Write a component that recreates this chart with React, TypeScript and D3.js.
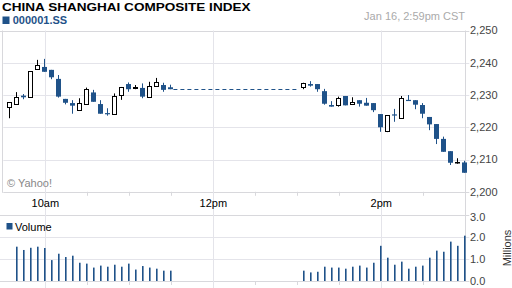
import React from "react";
import * as d3 from "d3";

// ---- data ----
const candleTimes = [
  "09:34","09:39","09:44","09:49","09:54","09:59","10:04","10:09","10:14","10:19","10:24","10:29",
  "10:34","10:39","10:44","10:49","10:54","10:59","11:04","11:09","11:14","11:19","11:24","11:29",
  "13:04","13:09","13:14","13:19","13:24","13:29","13:34","13:39","13:44","13:49","13:54","13:59",
  "14:04","14:09","14:14","14:19","14:24","14:29","14:34","14:39","14:44","14:49","14:54","14:59",
];
const openValues = [
  2226.3,2227.1,2229.8,2229.3,2238.2,2238.7,2237.8,2235.0,2228.8,2227.5,2225.3,2227.1,
  2230.8,2227.2,2224.4,2224.2,2229.9,2233.4,2232.1,2232.2,2229.3,2232.7,2233.1,2232.4,
  2232.4,2233.4,2233.4,2231.2,2226.9,2227.0,2229.7,2227.3,2228.4,2227.6,2227.5,2224.1,
  2218.9,2224.0,2222.8,2228.5,2228.4,2226.9,2223.2,2221.0,2216.4,2212.6,2209.2,2209.1,
];
const highValues = [
  2227.7,2230.9,2230.3,2237.4,2240.9,2241.2,2237.8,2236.2,2228.8,2228.4,2229.0,2232.3,
  2231.6,2228.4,2225.9,2230.5,2232.5,2233.9,2233.1,2233.6,2234.1,2235.3,2233.8,2233.2,
  2233.8,2234.3,2233.4,2231.9,2228.1,2229.5,2229.7,2229.3,2228.4,2229.1,2227.5,2224.1,
  2223.7,2225.7,2229.7,2230.0,2228.4,2227.5,2223.2,2221.0,2217.1,2212.6,2210.4,2209.6,
];
const lowValues = [
  2222.8,2227.1,2228.7,2229.3,2237.8,2237.2,2234.9,2229.2,2227.1,2224.2,2225.3,2227.1,
  2227.9,2224.2,2223.6,2224.2,2228.5,2231.0,2231.8,2229.0,2229.3,2232.7,2231.0,2231.8,
  2231.8,2232.6,2231.0,2227.0,2226.4,2226.4,2226.8,2227.0,2226.4,2226.7,2224.7,2218.6,
  2218.5,2221.7,2222.8,2228.3,2225.6,2222.8,2219.1,2214.8,2212.4,2208.3,2208.7,2205.9,
];
const closeValues = [
  2227.7,2229.4,2229.3,2237.4,2239.2,2237.2,2235.5,2229.5,2227.6,2226.7,2227.4,2231.9,
  2227.9,2224.2,2224.3,2229.7,2232.5,2231.8,2232.6,2229.5,2232.7,2233.9,2231.6,2231.8,
  2233.8,2232.9,2231.8,2227.3,2226.4,2229.1,2226.8,2227.7,2227.3,2226.7,2225.3,2220.0,
  2223.7,2223.9,2229.0,2228.3,2227.0,2224.2,2220.9,2216.4,2212.4,2209.0,2209.3,2205.9,
];
// volume in millions (first interval has no bar)
const volumeValues = [
  null,1.56,1.41,1.51,1.56,1.50,0.95,1.24,1.09,1.15,0.83,0.79,
  0.61,0.70,0.65,0.74,0.65,0.79,0.52,0.68,0.61,0.56,0.47,0.47,
  0.47,0.39,0.42,0.65,0.61,0.61,0.56,0.65,0.70,0.61,0.83,1.60,
  1.06,0.74,0.88,0.56,0.65,0.70,1.06,1.38,1.33,1.79,1.60,2.06,
];
const priceTicks = [2200, 2210, 2220, 2230, 2240, 2250];
const volumeTicks = [0, 1, 2, 3];
const timeTicks = ["10:00","10:30","11:00","11:30","12:00","12:30","13:00","13:30","14:00","14:30"];
const timeLabels = [
  { t: "10:00", label: "10am" },
  { t: "12:00", label: "12pm" },
  { t: "14:00", label: "2pm" },
];
const title = "CHINA SHANGHAI COMPOSITE INDEX";
const symbol = "000001.SS";
const stamp = "Jan 16, 2:59pm CST";

// ---- styles ----
const BLUE = "#1f5289";
const GRID = "#e4e4ea";
const BORDER = "#d8d8dc";
const FONT = "Arial, 'Liberation Sans', sans-serif";

const toMin = (s: string) => {
  const [h, m] = s.split(":").map(Number);
  return h * 60 + m;
};

export default function App() {
  const x = d3.scaleLinear().domain([toMin("09:30"), toMin("15:00")]).range([3.3, 465.3]);
  const y = d3.scaleLinear().domain([2200, 2250]).range([191.8, 30.5]);
  const yv = d3.scaleLinear().domain([0, 3]).range([281, 215]);
  const left = x.range()[0];
  const right = x.range()[1];
  const bw = 5;

  const crisp = (v: number) => Math.round(v) + 0.5;
  const lunchIdx = candleTimes.findIndex((t) => toMin(t) > toMin("12:00"));

  return (
    <svg
      width={512}
      height={288}
      style={{ position: "absolute", left: 0, top: 0, background: "#fff" }}
      fontFamily={FONT}
    >
      {/* header */}
      <text x={2} y={10.6} fontSize={11.5} fontWeight="bold" fill="#000" textLength={248.5} lengthAdjust="spacingAndGlyphs">{title}</text>
      <rect x={2.5} y={16.5} width={7} height={7.5} fill={BLUE} />
      <text x={12.7} y={24.2} fontSize={11} fontWeight="bold" fill={BLUE}>{symbol}</text>
      <text x={465} y={20} fontSize={11} fill="#aaa" textAnchor="end">{stamp}</text>

      {/* price gridlines */}
      {priceTicks.map((v) => (
        <line key={"pg" + v} x1={v === 2250 ? 0 : left} x2={right + 4} y1={crisp(y(v))} y2={crisp(y(v))} stroke={v === 2200 || v === 2250 ? BORDER : GRID} />
      ))}
      {/* volume gridlines */}
      {volumeTicks.map((v) => (
        <line key={"vg" + v} x1={0} x2={right + 4} y1={crisp(yv(v))} y2={crisp(yv(v))} stroke={v === 0 || v === 3 ? BORDER : GRID} />
      ))}
      {/* left border of price panel */}
      <line x1={crisp(left) - 1} x2={crisp(left) - 1} y1={y(2250)} y2={y(2200) + 1} stroke={BORDER} />
      {/* right border */}
      <line x1={crisp(right)} x2={crisp(right)} y1={y(2250)} y2={yv(0) + 1} stroke={BORDER} />

      {/* vertical time ticks / gridlines */}
      {timeTicks.map((t) => {
        const major = timeLabels.some((l) => l.t === t);
        const xx = crisp(x(toMin(t)));
        return major ? (
          <line key={"tg" + t} x1={xx} x2={xx} y1={y(2250)} y2={288} stroke={GRID} />
        ) : (
          <g key={"tg" + t}>
            <line x1={xx} x2={xx} y1={y(2200)} y2={y(2200) + 4} stroke={BORDER} />
            <line x1={xx} x2={xx} y1={yv(0)} y2={yv(0) + 4} stroke={BORDER} />
          </g>
        );
      })}

      {/* time labels */}
      {timeLabels.map((l) => (
        <text key={l.t} x={x(toMin(l.t))} y={207} fontSize={11} textAnchor="middle" fill="#000">{l.label}</text>
      ))}

      {/* price axis labels */}
      {priceTicks.map((v) => (
        <text key={"pl" + v} x={470} y={y(v)} dy="0.35em" fontSize={11} fill="#444">{d3.format(",")(v)}</text>
      ))}
      {/* volume axis labels */}
      {volumeTicks.map((v) => (
        <text key={"vl" + v} x={470} y={v === 3 ? yv(v) + 2 : yv(v)} dy="0.35em" fontSize={11} fill="#444">{d3.format(".1f")(v)}</text>
      ))}
      <text transform={`translate(507,248) rotate(-90)`} dy="0.35em" fontSize={11} textAnchor="middle" fill="#333">Millions</text>

      <text x={7} y={186.5} fontSize={11} fill="#888">© Yahoo!</text>

      {/* volume legend */}
      <rect x={6.5} y={223} width={6} height={6.5} fill={BLUE} />
      <text x={15} y={230.5} fontSize={11} fill="#000">Volume</text>

      {/* lunch-break dashed line */}
      <line
        x1={x(toMin(candleTimes[lunchIdx - 1])) + bw / 2 + 1}
        x2={x(toMin(candleTimes[lunchIdx])) - bw / 2 - 3}
        y1={crisp(y(closeValues[lunchIdx - 1]))}
        y2={crisp(y(closeValues[lunchIdx - 1]))}
        stroke={BLUE}
        strokeDasharray="4,3"
      />

      {/* volume bars */}
      {volumeValues.map((v, i) =>
        v == null ? null : (
          <rect key={"v" + i} x={crisp(x(toMin(candleTimes[i]))) - 0.5} y={yv(v)} width={1.6} height={yv(0) - yv(v)} fill={BLUE} />
        )
      )}

      {/* candles */}
      {candleTimes.map((t, i) => {
        const cx = crisp(x(toMin(t)));
        const o = openValues[i];
        const c = closeValues[i];
        const up = c > o;
        const top = y(Math.max(o, c));
        const bot = y(Math.min(o, c));
        const col = up ? "#000" : BLUE;
        return (
          <g key={"c" + i}>
            <line x1={cx} x2={cx} y1={y(highValues[i])} y2={y(lowValues[i])} stroke={col} />
            {up ? (
              <rect x={cx - 2} y={Math.round(top) + 0.5} width={bw - 1} height={Math.max(0.5, Math.round(bot) - Math.round(top))} fill="#fff" stroke="#000" />
            ) : (
              <rect x={cx - 2.5} y={top} width={bw} height={Math.max(1.2, bot - top)} fill={BLUE} />
            )}
          </g>
        );
      })}
    </svg>
  );
}
